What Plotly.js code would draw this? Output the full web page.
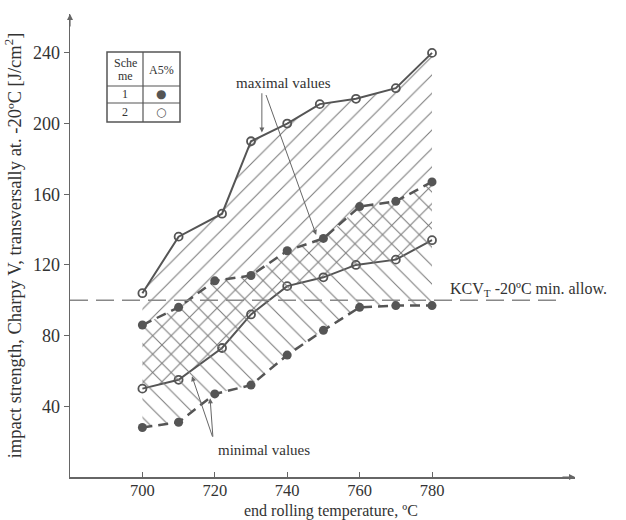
<!DOCTYPE html>
<html><head><meta charset="utf-8">
<script src="https://cdn.plot.ly/plotly-3.0.1.min.js"></script>
<style>html,body{margin:0;padding:0;background:#fff}#chart{width:626px;height:520px}</style>
</head><body><div id="chart"></div>
<script>
// Scheme 2 (open circles, solid lines)
const s2MaxX = [700, 710, 722, 730, 740, 749, 759, 770, 780];
const s2MaxY = [104, 136, 149, 190, 200, 211, 214, 220, 240];
const s2MinX = [700, 710, 722, 730, 740, 750, 759, 770, 780];
const s2MinY = [50, 55, 73, 92, 108, 113, 120, 123, 134];
// Scheme 1 (filled circles, dashed lines)
const s1MaxX = [700, 710, 720, 730, 740, 750, 760, 770, 780];
const s1MaxY = [86, 96, 111, 114, 128, 135, 153, 156, 167];
const s1MinX = [700, 710, 720, 730, 740, 750, 760, 770, 780];
const s1MinY = [28, 31, 47, 52, 69, 83, 96, 97, 97];
const THRESHOLD = 100;
const xTicks = [700, 720, 740, 760, 780];
const yTicks = [40, 80, 120, 160, 200, 240];

const FONT = 'Liberation Serif, Times New Roman, serif';
const INK = '#555';
const L = 70, R = 575, T = 14, B = 477;
const px = p => (p - L) / (R - L);
const py = p => (B - p) / (B - T);

const traces = [
  {x: s2MinX, y: s2MinY, mode: 'lines+markers', line: {color: INK, width: 2},
   marker: {symbol: 'circle-open', size: 8, color: INK, line: {width: 1.8}}},
  {x: s2MaxX, y: s2MaxY, mode: 'lines+markers', line: {color: INK, width: 2},
   marker: {symbol: 'circle-open', size: 8, color: INK, line: {width: 1.8}},
   fill: 'tonexty', fillcolor: 'rgba(0,0,0,0)',
   fillpattern: {shape: '/', fgcolor: '#7a7a7a', bgcolor: 'rgba(0,0,0,0)', size: 13, solidity: 0.08}},
  {x: s1MinX, y: s1MinY, mode: 'lines+markers', line: {color: INK, width: 2.5, dash: '10px,6px'},
   marker: {symbol: 'circle', size: 9, color: INK}},
  {x: s1MaxX, y: s1MaxY, mode: 'lines+markers', line: {color: INK, width: 2.5, dash: '10px,6px'},
   marker: {symbol: 'circle', size: 9, color: INK},
   fill: 'tonexty', fillcolor: 'rgba(0,0,0,0)',
   fillpattern: {shape: '\\', fgcolor: '#7a7a7a', bgcolor: 'rgba(0,0,0,0)', size: 13, solidity: 0.08}}
];

const shapes = [
  {type: 'line', xref: 'x', yref: 'y', x0: 680, x1: 815, y0: THRESHOLD, y1: THRESHOLD,
   line: {color: '#888', width: 1.5, dash: '18px,8px'}},
  // legend table
  {type: 'rect', xref: 'paper', yref: 'paper', x0: px(107), x1: px(180), y0: py(52), y1: py(122), line: {color: INK, width: 1.5}},
  {type: 'line', xref: 'paper', yref: 'paper', x0: px(143), x1: px(143), y0: py(52), y1: py(122), line: {color: INK, width: 1.2}},
  {type: 'line', xref: 'paper', yref: 'paper', x0: px(107), x1: px(180), y0: py(86), y1: py(86), line: {color: INK, width: 1.2}},
  {type: 'line', xref: 'paper', yref: 'paper', x0: px(107), x1: px(180), y0: py(103), y1: py(103), line: {color: INK, width: 1.2}}
];

const tf = s => ({family: FONT, size: s, color: '#333'});
const arrow = (x, y, ax, ay) => ({x, y, ax, ay, xref: 'x', yref: 'y', axref: 'x', ayref: 'y', text: '',
  showarrow: true, arrowhead: 2, arrowsize: 1, arrowwidth: 1, arrowcolor: '#666'});
const cell = (x, y, text, font) => ({x: px(x), y: py(y), xref: 'paper', yref: 'paper', text, showarrow: false,
  xanchor: 'center', yanchor: 'middle', font});
const annotations = [
  {x: 739, y: 223, xref: 'x', yref: 'y', text: 'maximal values', showarrow: false, font: tf(15)},
  arrow(733, 195, 733, 218),
  arrow(748, 137, 734, 217),
  {x: 733.6, y: 15, xref: 'x', yref: 'y', text: 'minimal values', showarrow: false, font: tf(15)},
  arrow(713.7, 57, 719.5, 22),
  arrow(718.7, 44.5, 719.5, 22),
  {x: 784.3, y: 106, xref: 'x', yref: 'y', text: 'KCV<sub>T</sub> -20ºC min. allow.', showarrow: false,
   xanchor: 'left', font: tf(16)},
  // table text
  cell(125, 63, 'Sche', tf(12)),
  cell(125, 76, 'me', tf(12)),
  cell(161, 70, 'A5%', tf(12)),
  cell(125, 94, '1', tf(12)),
  cell(161, 94, '●', {family: 'DejaVu Sans', size: 12, color: INK}),
  cell(125, 112, '2', tf(12)),
  cell(161, 112, '○', {family: 'DejaVu Sans', size: 12, color: INK}),
  // x-axis title
  cell(331, 511, 'end rolling temperature, ºC', tf(16)),
  // axis arrows
  {x: 0, y: 1, xref: 'paper', yref: 'paper', ax: 0, ay: 14, text: '', showarrow: true, arrowhead: 2, arrowsize: 1, arrowwidth: 1.2, arrowcolor: '#666', standoff: 0},
  {x: 1, y: 0, xref: 'paper', yref: 'paper', ax: -14, ay: 0, text: '', showarrow: true, arrowhead: 2, arrowsize: 1, arrowwidth: 1.2, arrowcolor: '#666', standoff: 0}
];

const layout = {
  width: 626, height: 520,
  margin: {l: L, r: 626 - R, t: T, b: 520 - B},
  paper_bgcolor: '#fff', plot_bgcolor: '#fff',
  showlegend: false,
  font: tf(17),
  xaxis: {range: [680, 819.5], tickvals: xTicks, ticktext: xTicks.map(String), showgrid: false, zeroline: false,
    showline: true, linecolor: '#666', linewidth: 1.5, ticks: 'inside', ticklen: 5, tickcolor: '#666',
    tickfont: tf(16.5), ticklabelstandoff: -2},
  yaxis: {range: [0, 262], tickvals: yTicks, ticktext: yTicks.map(String), showgrid: false, zeroline: false,
    showline: true, linecolor: '#666', linewidth: 1.5, ticks: 'outside', ticklen: 5, tickcolor: '#666',
    tickfont: tf(18),
    title: {text: 'impact strength, Charpy V, transversally at. -20ºC [J/cm<sup>2</sup>]', font: tf(18.5), standoff: 6}},
  shapes, annotations
};

Plotly.newPlot('chart', traces, layout, {displayModeBar: false, staticPlot: true});
</script></body></html>
